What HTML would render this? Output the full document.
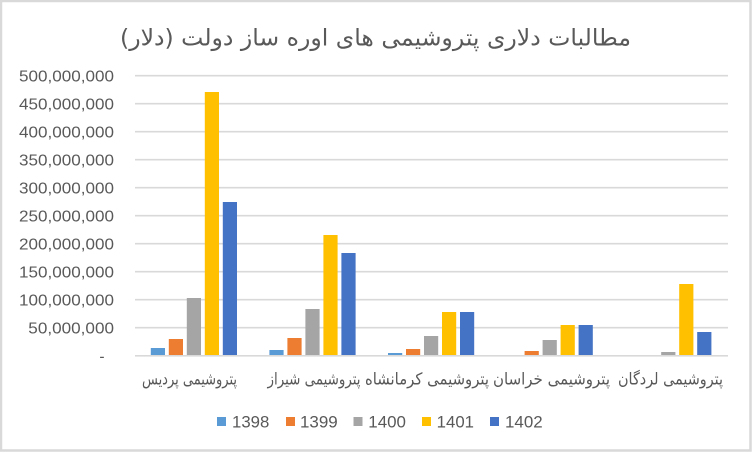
<!DOCTYPE html>
<html>
<head>
<meta charset="utf-8">
<style>
html,body{margin:0;padding:0;background:#fff;}
#c{position:relative;width:752px;height:452px;overflow:hidden;}
svg{position:absolute;left:0;top:0;}
</style>
</head>
<body>
<div id="c">
<svg width="752" height="452" viewBox="0 0 752 452" xmlns="http://www.w3.org/2000/svg">
  <rect x="0" y="0" width="752" height="452" fill="#ffffff"/>
  <!-- border -->
  <rect x="1" y="1" width="749.5" height="449.5" fill="none" stroke="#d9d9d9" stroke-width="2.5"/>

  <!-- title -->
  <text x="375.5" y="45.5" text-anchor="middle" direction="rtl" font-family="'DejaVu Sans', 'Liberation Sans', sans-serif" font-size="23" fill="#595959" textLength="511" lengthAdjust="spacingAndGlyphs">مطالبات دلاری پتروشیمی های اوره ساز دولت (دلار)</text>

  <!-- gridlines -->
  <g stroke="#d9d9d9" stroke-width="1.6">
    <line x1="135" y1="75.7" x2="728" y2="75.7"/>
    <line x1="135" y1="103.7" x2="728" y2="103.7"/>
    <line x1="135" y1="131.7" x2="728" y2="131.7"/>
    <line x1="135" y1="159.7" x2="728" y2="159.7"/>
    <line x1="135" y1="187.7" x2="728" y2="187.7"/>
    <line x1="135" y1="215.7" x2="728" y2="215.7"/>
    <line x1="135" y1="243.7" x2="728" y2="243.7"/>
    <line x1="135" y1="271.7" x2="728" y2="271.7"/>
    <line x1="135" y1="299.7" x2="728" y2="299.7"/>
    <line x1="135" y1="327.7" x2="728" y2="327.7"/>
  </g>

  <!-- y axis labels -->
  <g font-family="'Liberation Sans', sans-serif" font-size="15.5" fill="#595959" text-anchor="end">
    <text x="114" y="81.3" textLength="95" lengthAdjust="spacingAndGlyphs">500,000,000</text>
    <text x="114" y="109.3" textLength="95" lengthAdjust="spacingAndGlyphs">450,000,000</text>
    <text x="114" y="137.3" textLength="95" lengthAdjust="spacingAndGlyphs">400,000,000</text>
    <text x="114" y="165.3" textLength="95" lengthAdjust="spacingAndGlyphs">350,000,000</text>
    <text x="114" y="193.3" textLength="95" lengthAdjust="spacingAndGlyphs">300,000,000</text>
    <text x="114" y="221.3" textLength="95" lengthAdjust="spacingAndGlyphs">250,000,000</text>
    <text x="114" y="249.3" textLength="95" lengthAdjust="spacingAndGlyphs">200,000,000</text>
    <text x="114" y="277.3" textLength="95" lengthAdjust="spacingAndGlyphs">150,000,000</text>
    <text x="114" y="305.3" textLength="95" lengthAdjust="spacingAndGlyphs">100,000,000</text>
    <text x="114" y="333.3" textLength="85.7" lengthAdjust="spacingAndGlyphs">50,000,000</text>
    <text x="104.5" y="361.5">-</text>
  </g>

  <!-- bars -->
  <rect x="150.8" y="348" width="14.2" height="7.8" fill="#5b9bd5"/>
  <rect x="168.8" y="339" width="14.2" height="16.8" fill="#ed7d31"/>
  <rect x="186.8" y="298" width="14.2" height="57.8" fill="#a5a5a5"/>
  <rect x="204.8" y="92" width="14.2" height="263.8" fill="#ffc000"/>
  <rect x="222.8" y="202" width="14.2" height="153.8" fill="#4472c4"/>

  <rect x="269.4" y="350" width="14.2" height="5.8" fill="#5b9bd5"/>
  <rect x="287.4" y="338" width="14.2" height="17.8" fill="#ed7d31"/>
  <rect x="305.4" y="309" width="14.2" height="46.8" fill="#a5a5a5"/>
  <rect x="323.4" y="235" width="14.2" height="120.8" fill="#ffc000"/>
  <rect x="341.4" y="253" width="14.2" height="102.8" fill="#4472c4"/>

  <rect x="388" y="353" width="14.2" height="2.8" fill="#5b9bd5"/>
  <rect x="406" y="349" width="14.2" height="6.8" fill="#ed7d31"/>
  <rect x="424" y="336" width="14.2" height="19.8" fill="#a5a5a5"/>
  <rect x="442" y="312" width="14.2" height="43.8" fill="#ffc000"/>
  <rect x="460" y="312" width="14.2" height="43.8" fill="#4472c4"/>

  <rect x="524.6" y="351" width="14.2" height="4.8" fill="#ed7d31"/>
  <rect x="542.6" y="340" width="14.2" height="15.8" fill="#a5a5a5"/>
  <rect x="560.6" y="325" width="14.2" height="30.8" fill="#ffc000"/>
  <rect x="578.6" y="325" width="14.2" height="30.8" fill="#4472c4"/>

  <rect x="661.2" y="352" width="14.2" height="3.8" fill="#a5a5a5"/>
  <rect x="679.2" y="284" width="14.2" height="71.8" fill="#ffc000"/>
  <rect x="697.2" y="332" width="14.2" height="23.8" fill="#4472c4"/>

  <!-- baseline gridline -->
  <line x1="135" y1="355.8" x2="728" y2="355.8" stroke="#d9d9d9" stroke-width="1.6"/>

  <!-- category labels -->
  <g font-family="'DejaVu Sans', 'Liberation Sans', sans-serif" font-size="16.5" fill="#595959" text-anchor="middle" direction="rtl">
    <text x="189.5" y="384.5" textLength="95" lengthAdjust="spacingAndGlyphs">پتروشیمی پردیس</text>
    <text x="314" y="384.5" textLength="93" lengthAdjust="spacingAndGlyphs">پتروشیمی شیراز</text>
    <text x="427" y="384.5" textLength="124" lengthAdjust="spacingAndGlyphs">پتروشیمی کرمانشاه</text>
    <text x="551.5" y="384.5" textLength="117" lengthAdjust="spacingAndGlyphs">پتروشیمی خراسان</text>
    <text x="670.5" y="384.5" textLength="105" lengthAdjust="spacingAndGlyphs">پتروشیمی لردگان</text>
  </g>

  <!-- legend -->
  <rect x="217" y="417" width="9" height="9" fill="#5b9bd5"/>
  <rect x="286" y="417" width="9" height="9" fill="#ed7d31"/>
  <rect x="353.5" y="417" width="9" height="9" fill="#a5a5a5"/>
  <rect x="422" y="417" width="9" height="9" fill="#ffc000"/>
  <rect x="490" y="417" width="9" height="9" fill="#4472c4"/>
  <g font-family="'Liberation Sans', sans-serif" font-size="16.5" fill="#595959">
    <text x="232" y="427.3" textLength="37.3" lengthAdjust="spacingAndGlyphs">1398</text>
    <text x="300" y="427.3" textLength="37.7" lengthAdjust="spacingAndGlyphs">1399</text>
    <text x="368.3" y="427.3" textLength="37.7" lengthAdjust="spacingAndGlyphs">1400</text>
    <text x="436.7" y="427.3" textLength="37.3" lengthAdjust="spacingAndGlyphs">1401</text>
    <text x="505" y="427.3" textLength="37.7" lengthAdjust="spacingAndGlyphs">1402</text>
  </g>
</svg>
</div>
</body>
</html>
